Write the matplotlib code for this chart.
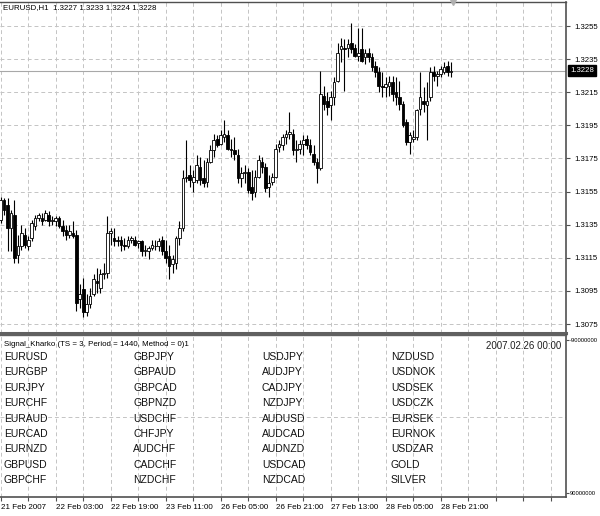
import matplotlib
matplotlib.use("Agg")
import matplotlib.pyplot as plt
import matplotlib.transforms as mtransforms
import numpy as np

plt.rcParams['font.family'] = ['Liberation Sans', 'DejaVu Sans']

# ---------------- data (EURUSD H1) ----------------
opens = [1.3138, 1.3150, 1.3147, 1.3133, 1.3141, 1.3117, 1.3122, 1.3129, 1.3122, 1.3127,
         1.3134, 1.3139, 1.3139, 1.3138, 1.3141, 1.3137, 1.3137, 1.3139, 1.3134, 1.3132,
         1.3129, 1.3130, 1.3129, 1.3090, 1.3096, 1.3082, 1.3087, 1.3093, 1.3101, 1.3097,
         1.3105, 1.3106, 1.3130, 1.3127, 1.3126, 1.3126, 1.3123, 1.3122, 1.3126, 1.3126,
         1.3124, 1.3125, 1.3119, 1.3119, 1.3121, 1.3122, 1.3122, 1.3126, 1.3119, 1.3116,
         1.3111, 1.3112, 1.3127, 1.3133, 1.3163, 1.3165, 1.3161, 1.3162, 1.3170, 1.3163,
         1.3161, 1.3173, 1.3180, 1.3187, 1.3184, 1.3188, 1.3189, 1.3181, 1.3180, 1.3177,
         1.3163, 1.3166, 1.3167, 1.3158, 1.3155, 1.3164, 1.3173, 1.3170, 1.3158, 1.3161,
         1.3164, 1.3182, 1.3183, 1.3188, 1.3190, 1.3190, 1.3180, 1.3181, 1.3184, 1.3187,
         1.3183, 1.3178, 1.3173, 1.3169, 1.3213, 1.3210, 1.3207, 1.3212, 1.3222, 1.3241,
         1.3242, 1.3242, 1.3245, 1.3242, 1.3237, 1.3241, 1.3236, 1.3239, 1.3236, 1.3231,
         1.3227, 1.3219, 1.3218, 1.3219, 1.3221, 1.3215, 1.3212, 1.3208, 1.3197, 1.3185,
         1.3187, 1.3188, 1.3205, 1.3210, 1.3207, 1.3212, 1.3227, 1.3225, 1.3226, 1.3227,
         1.3231, 1.3227]
highs = [1.3152, 1.3151, 1.3151, 1.3144, 1.3150, 1.3129, 1.3135, 1.3133, 1.3128, 1.3138,
         1.3141, 1.3142, 1.3142, 1.3144, 1.3143, 1.3140, 1.3140, 1.3140, 1.3138, 1.3135,
         1.3135, 1.3137, 1.3132, 1.3099, 1.3103, 1.3093, 1.3097, 1.3105, 1.3109, 1.3108,
         1.3112, 1.3140, 1.3133, 1.3133, 1.3128, 1.3128, 1.3127, 1.3128, 1.3128, 1.3128,
         1.3126, 1.3126, 1.3123, 1.3122, 1.3126, 1.3126, 1.3127, 1.3128, 1.3126, 1.3123,
         1.3117, 1.3128, 1.3137, 1.3168, 1.3186, 1.3171, 1.3168, 1.3177, 1.3176, 1.3174,
         1.3175, 1.3183, 1.3190, 1.3189, 1.3192, 1.3198, 1.3192, 1.3187, 1.3188, 1.3181,
         1.3170, 1.3171, 1.3169, 1.3168, 1.3168, 1.3177, 1.3176, 1.3172, 1.3165, 1.3166,
         1.3184, 1.3186, 1.3190, 1.3192, 1.3203, 1.3193, 1.3186, 1.3186, 1.3189, 1.3189,
         1.3187, 1.3183, 1.3175, 1.3228, 1.3219, 1.3215, 1.3216, 1.3224, 1.3245, 1.3248,
         1.3247, 1.3247, 1.3257, 1.3244, 1.3254, 1.3254, 1.3241, 1.3242, 1.3239, 1.3234,
         1.3230, 1.3227, 1.3224, 1.3225, 1.3225, 1.3224, 1.3222, 1.3210, 1.3199, 1.3191,
         1.3192, 1.3205, 1.3227, 1.3218, 1.3221, 1.3230, 1.3231, 1.3228, 1.3231, 1.3233,
         1.3234, 1.3233]
lows = [1.3136, 1.3141, 1.3119, 1.3119, 1.3112, 1.3112, 1.3120, 1.3121, 1.3120, 1.3125,
        1.3132, 1.3137, 1.3135, 1.3137, 1.3134, 1.3135, 1.3134, 1.3133, 1.3128, 1.3126,
        1.3127, 1.3127, 1.3083, 1.3085, 1.3079, 1.3080, 1.3085, 1.3092, 1.3094, 1.3094,
        1.3102, 1.3103, 1.3123, 1.3122, 1.3122, 1.3119, 1.3120, 1.3121, 1.3124, 1.3122,
        1.3121, 1.3116, 1.3116, 1.3114, 1.3120, 1.3120, 1.3119, 1.3117, 1.3112, 1.3102,
        1.3106, 1.3108, 1.3123, 1.3131, 1.3161, 1.3158, 1.3155, 1.3160, 1.3159, 1.3158,
        1.3158, 1.3172, 1.3176, 1.3182, 1.3183, 1.3185, 1.3180, 1.3176, 1.3174, 1.3160,
        1.3158, 1.3160, 1.3154, 1.3150, 1.3152, 1.3163, 1.3166, 1.3155, 1.3152, 1.3159,
        1.3163, 1.3179, 1.3180, 1.3184, 1.3187, 1.3177, 1.3173, 1.3178, 1.3177, 1.3181,
        1.3177, 1.3171, 1.3160, 1.3168, 1.3204, 1.3201, 1.3198, 1.3207, 1.3221, 1.3233,
        1.3216, 1.3236, 1.3239, 1.3236, 1.3234, 1.3233, 1.3232, 1.3233, 1.3228, 1.3224,
        1.3215, 1.3212, 1.3212, 1.3213, 1.3210, 1.3207, 1.3204, 1.3194, 1.3183, 1.3178,
        1.3185, 1.3186, 1.3201, 1.3203, 1.3186, 1.3210, 1.3222, 1.3219, 1.3224, 1.3226,
        1.3225, 1.3224]
closes = [1.3150, 1.3144, 1.3133, 1.3142, 1.3115, 1.3122, 1.3130, 1.3123, 1.3126, 1.3136,
          1.3139, 1.3141, 1.3137, 1.3142, 1.3137, 1.3138, 1.3139, 1.3134, 1.3131, 1.3129,
          1.3131, 1.3128, 1.3088, 1.3093, 1.3082, 1.3087, 1.3092, 1.3102, 1.3100, 1.3105,
          1.3106, 1.3130, 1.3131, 1.3125, 1.3125, 1.3123, 1.3122, 1.3126, 1.3127, 1.3123,
          1.3125, 1.3119, 1.3120, 1.3121, 1.3123, 1.3122, 1.3125, 1.3119, 1.3115, 1.3110,
          1.3114, 1.3127, 1.3133, 1.3163, 1.3164, 1.3162, 1.3164, 1.3171, 1.3162, 1.3160,
          1.3173, 1.3180, 1.3186, 1.3183, 1.3189, 1.3190, 1.3181, 1.3180, 1.3178, 1.3163,
          1.3166, 1.3167, 1.3156, 1.3154, 1.3164, 1.3174, 1.3170, 1.3157, 1.3160, 1.3164,
          1.3181, 1.3184, 1.3188, 1.3190, 1.3191, 1.3180, 1.3181, 1.3184, 1.3186, 1.3183,
          1.3179, 1.3173, 1.3169, 1.3214, 1.3208, 1.3206, 1.3212, 1.3221, 1.3239, 1.3243,
          1.3241, 1.3244, 1.3241, 1.3237, 1.3239, 1.3234, 1.3239, 1.3236, 1.3230, 1.3227,
          1.3219, 1.3218, 1.3220, 1.3221, 1.3214, 1.3212, 1.3208, 1.3195, 1.3185, 1.3189,
          1.3188, 1.3204, 1.3212, 1.3208, 1.3210, 1.3227, 1.3225, 1.3226, 1.3229, 1.3230,
          1.3227, 1.3228]

price_ticks = [1.3075, 1.3095, 1.3115, 1.3135, 1.3155, 1.3175, 1.3195, 1.3215, 1.3235, 1.3255]
date_labels = ["21 Feb 2007", "22 Feb 03:00", "22 Feb 19:00", "23 Feb 11:00", "26 Feb 05:00",
               "26 Feb 21:00", "27 Feb 13:00", "28 Feb 05:00", "28 Feb 21:00"]
indicator_range = [-90000000, 90000000]
symbols = ["EURUSD", "EURGBP", "EURJPY", "EURCHF", "EURAUD", "EURCAD", "EURNZD", "GBPUSD", "GBPCHF",
           "GBPJPY", "GBPAUD", "GBPCAD", "GBPNZD", "USDCHF", "CHFJPY", "AUDCHF", "CADCHF", "NZDCHF",
           "USDJPY", "AUDJPY", "CADJPY", "NZDJPY", "AUDUSD", "AUDCAD", "AUDNZD", "USDCAD", "NZDCAD",
           "NZDUSD", "USDNOK", "USDSEK", "USDCZK", "EURSEK", "EURNOK", "USDZAR", "GOLD", "SILVER"]
title_text = "EURUSD,H1  1.3227 1.3233 1.3224 1.3228"
indicator_title = "Signal_Kharko (TS = 3, Period = 1440, Method = 0)1"
signal_time = "2007.02.26 00:00"

# ---------------- layout ----------------
W, H = 600, 516
fig = plt.figure(figsize=(W / 100, H / 100), dpi=100)
fig.patch.set_facecolor('white')

def fx(px):
    return px / W

def fy(py):
    return 1 - py / H

x_right = 566
main_top, main_bot = 2, 333
ind_top, ind_bot = 335, 497
bar_px = 55 / 16.0
x0 = -0.2
x1 = x0 + x_right / bar_px

ax1 = fig.add_axes([0, fy(main_bot), fx(x_right), (main_bot - main_top) / H])
ax2 = fig.add_axes([0, fy(ind_bot), fx(x_right), (ind_bot - ind_top) / H])

grid_col = '#c4c4c4'
grid_ls = (0, (4, 3))
frame_col = '#505050'

# ---------------- main pane ----------------
o = np.array(opens); h = np.array(highs); l = np.array(lows); c = np.array(closes)
x = np.arange(len(o))
bull = c >= o
ax1.vlines(x, l, h, color='black', lw=0.8, zorder=3)
bottom = np.minimum(o, c)
height = np.maximum(np.abs(c - o), 0.00003)
ax1.bar(x[bull], height[bull], bottom=bottom[bull], width=0.78,
        facecolor='white', edgecolor='black', lw=0.6, zorder=4)
ax1.bar(x[~bull], height[~bull], bottom=bottom[~bull], width=0.78,
        facecolor='black', edgecolor='black', lw=0.6, zorder=4)

ax1.set_xlim(x0, x1)
ax1.set_ylim(1.30696, 1.32695)
ax1.set_xticks(np.arange(0, x1, 8))
ax1.set_yticks(price_ticks)
ax1.grid(True, color=grid_col, linestyle=grid_ls, lw=0.7, zorder=0)
ax1.set_axisbelow(True)
ax1.tick_params(axis='x', length=0, labelbottom=False)
ax1.yaxis.tick_right()
ax1.tick_params(axis='y', direction='out', length=3, width=0.8, color=frame_col,
                labelsize=5.6, pad=3, labelcolor='black')
ax1.set_yticklabels([f"{p:.4f}" for p in price_ticks])
ax1.spines['left'].set_visible(False)
ax1.spines['top'].set_color(frame_col); ax1.spines['top'].set_lw(1.0)
ax1.spines['right'].set_color(frame_col); ax1.spines['right'].set_lw(1.2)
ax1.spines['bottom'].set_color('#606060'); ax1.spines['bottom'].set_lw(2.2)

last = closes[-1]
ax1.axhline(last, color='#a8a8a8', lw=0.8, zorder=2)
bt = mtransforms.blended_transform_factory(fig.transFigure, ax1.transData)
fig.text(fx(570), last, f"{last:.4f}", transform=bt, fontsize=5.6, color='white',
         va='center', ha='left',
         bbox=dict(boxstyle='square,pad=0.25', facecolor='black', edgecolor='black'))

# chart shift marker
ax1.plot([len(o) - 0.5], [1.32695], marker='v', color='#b0b0b0', ms=4, clip_on=False, zorder=5)

fig.text(fx(3), fy(8), title_text, fontsize=5.7, color='black', va='center', ha='left')

# ---------------- indicator pane ----------------
ax2.set_xlim(x0, x1)
ax2.set_ylim(9.47e7, -9.588e7)
ax2.grid(True, axis='x', color=grid_col, linestyle=grid_ls, lw=0.7, zorder=0)
ax2.axhline(0, color=grid_col, linestyle=grid_ls, lw=0.7, zorder=0)
ax2.set_yticks(indicator_range)
ax2.yaxis.tick_right()
ax2.set_yticklabels([str(v) for v in indicator_range])
ax2.tick_params(axis='y', direction='out', length=2, width=0.8, color=frame_col,
                labelsize=4.2, pad=1)
xt = np.arange(0, x1, 8)
ax2.set_xticks(xt)
labs = []
for k in xt:
    idx = int(k) // 16
    labs.append(date_labels[idx] if int(k) % 16 == 0 and idx < len(date_labels) else '')
ax2.set_xticklabels(labs, ha='left', fontsize=5.8)
ax2.tick_params(axis='x', direction='out', length=3, width=0.8, color=frame_col, pad=2)
ax2.spines['left'].set_visible(False)
ax2.spines['top'].set_color('#606060'); ax2.spines['top'].set_lw(1.0)
ax2.spines['right'].set_color(frame_col); ax2.spines['right'].set_lw(1.2)
ax2.spines['bottom'].set_color(frame_col); ax2.spines['bottom'].set_lw(1.2)

fig.text(fx(4), fy(344), indicator_title, fontsize=5.7, color='black', va='center', ha='left')
fig.text(fx(561), fy(346), signal_time, fontsize=7, color='#202020', va='center', ha='right')

col_x = [4, 133, 262, 391]
row_y0, row_dy = 357, 15.4
n_rows = 9
for i, s in enumerate(symbols):
    col, row = divmod(i, n_rows)
    fig.text(fx(col_x[col]), fy(row_y0 + row * row_dy), s, fontsize=7.5,
             color='#101010', va='center', ha='left')

fig.savefig("out.png", dpi=100, facecolor='white')
